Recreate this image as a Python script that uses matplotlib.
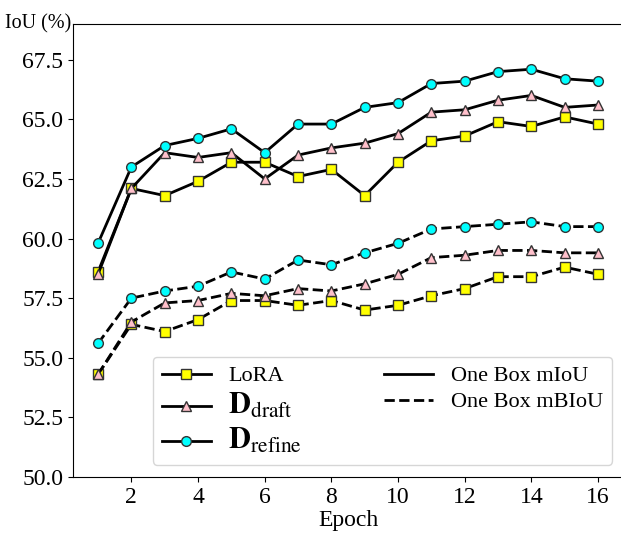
import numpy as np
import matplotlib
matplotlib.use('Agg')
import matplotlib.pyplot as plt
from matplotlib.lines import Line2D

plt.rcParams['font.family'] = 'Liberation Serif'
plt.rcParams['mathtext.fontset'] = 'stix'

epochs = np.arange(1, 17)

# One Box mIoU
lora_miou = [58.6, 62.1, 61.8, 62.4, 63.2, 63.2, 62.6, 62.9, 61.8, 63.2, 64.1, 64.3, 64.9, 64.7, 65.1, 64.8]
draft_miou = [58.5, 62.1, 63.6, 63.4, 63.6, 62.5, 63.5, 63.8, 64.0, 64.4, 65.3, 65.4, 65.8, 66.0, 65.5, 65.6]
refine_miou = [59.8, 63.0, 63.9, 64.2, 64.6, 63.6, 64.8, 64.8, 65.5, 65.7, 66.5, 66.6, 67.0, 67.1, 66.7, 66.6]

# One Box mBIoU
lora_mbiou = [54.3, 56.4, 56.1, 56.6, 57.4, 57.4, 57.2, 57.4, 57.0, 57.2, 57.6, 57.9, 58.4, 58.4, 58.8, 58.5]
draft_mbiou = [54.3, 56.5, 57.3, 57.4, 57.7, 57.6, 57.9, 57.8, 58.1, 58.5, 59.2, 59.3, 59.5, 59.5, 59.4, 59.4]
refine_mbiou = [55.6, 57.5, 57.8, 58.0, 58.6, 58.3, 59.1, 58.9, 59.4, 59.8, 60.4, 60.5, 60.6, 60.7, 60.5, 60.5]

labels = ['LoRA', r'$\mathbf{D}_{\mathrm{draft}}$', r'$\mathbf{D}_{\mathrm{refine}}$']
markers = ['s', '^', 'o']
colors = ['yellow', 'pink', 'cyan']

fig = plt.figure(figsize=(6.21, 5.4), dpi=100)
ax = fig.add_axes([0.1176, 0.1167, 0.8857, 0.839])

miou = [lora_miou, draft_miou, refine_miou]
mbiou = [lora_mbiou, draft_mbiou, refine_mbiou]

for i in range(3):
    ax.plot(epochs, miou[i], '-', color='black', lw=2, marker=markers[i],
            markerfacecolor=colors[i], markeredgecolor='#333333', markersize=7, mew=1)
    ax.plot(epochs, mbiou[i], '--', color='black', lw=2, marker=markers[i],
            markerfacecolor=colors[i], markeredgecolor='#333333', markersize=7, mew=1)

ax.set_xlim(0.25, 16.75)
ax.set_ylim(50, 69)
ax.set_xticks(range(2, 17, 2))
ax.set_yticks(np.arange(50, 68.1, 2.5))
ax.yaxis.set_major_formatter(matplotlib.ticker.FormatStrFormatter('%.1f'))
ax.tick_params(labelsize=17)
ax.set_xlabel('Epoch', fontsize=17, labelpad=2)
ax.text(-0.124, 1.0, 'IoU (%)', transform=ax.transAxes, ha='left', va='center', fontsize=14.5)

handles = []
for i in range(3):
    handles.append(Line2D([], [], color='black', lw=2, marker=markers[i],
                          markerfacecolor=colors[i], markeredgecolor='#333333', markersize=7))
handles.append(Line2D([], [], color='black', lw=2, ls='-'))
handles.append(Line2D([], [], color='black', lw=2, ls='--'))
leg_labels = labels + ['One Box mIoU', 'One Box mBIoU']
# empty slot so the second column has two rows
blank = Line2D([], [], color='none')
leg = ax.legend(handles + [blank], leg_labels + [''], ncol=2,
                loc='lower right', bbox_to_anchor=(0.98, 0.027), borderaxespad=0,
                fontsize=16, columnspacing=3.7, handlelength=2.2, labelspacing=0.25)
for t in leg.get_texts()[1:3]:
    t.set_fontsize(22)

fig.savefig('out.png', dpi=100)
